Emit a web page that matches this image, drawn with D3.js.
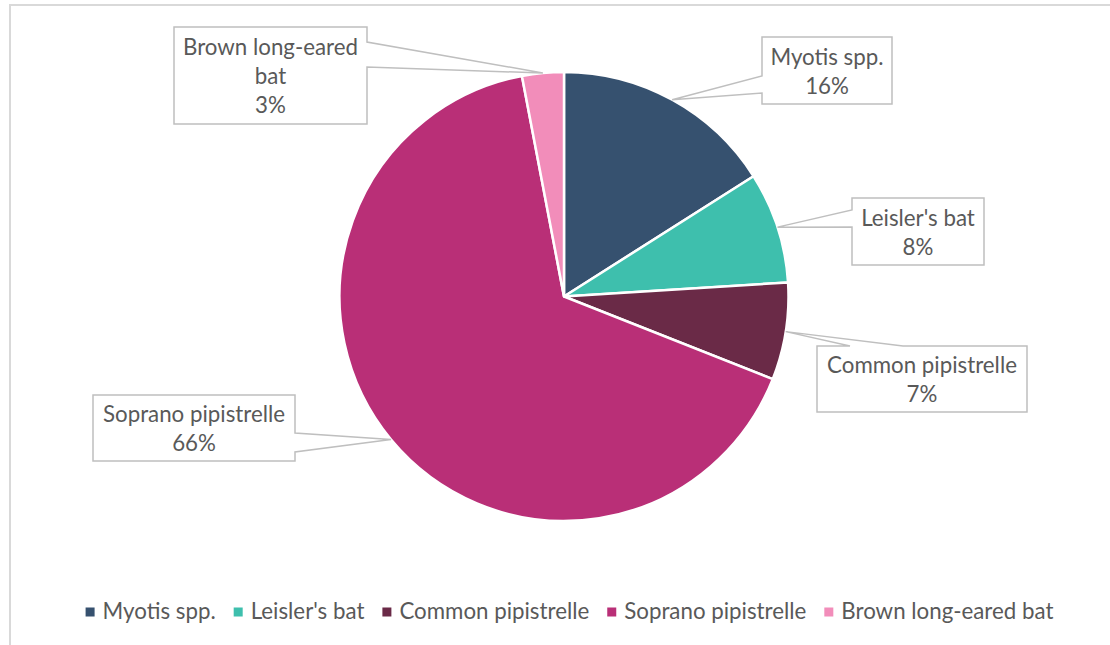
<!DOCTYPE html>
<html>
<head>
<meta charset="utf-8">
<script src="https://cdn.jsdelivr.net/npm/d3@7"></script>
<style>
  html, body { margin: 0; padding: 0; background: #ffffff; }
  svg { display: block; }
</style>
</head>
<body>
<svg id="chart" width="1110" height="645"></svg>
<script>
// Bat species recorded, share of all passes (%)
const categories = ["Myotis spp.", "Leisler's bat", "Common pipistrelle", "Soprano pipistrelle", "Brown long-eared bat"];
const shares = [16, 8, 7, 66, 3];
const sliceColors = ["#36516F", "#3EBFAD", "#6A2A47", "#B92F77", "#F28DBA"];
// Data-label text, one entry per line
const labelLines = [
  ["Myotis spp.", "16%"],
  ["Leisler's bat", "8%"],
  ["Common pipistrelle", "7%"],
  ["Soprano pipistrelle", "66%"],
  ["Brown long-eared", "bat", "3%"]
];

// Callout boxes: rectangle, side the pointer leaves from, and pointer base
const callouts = [
  { x0: 762, y0: 37, x1: 892, y1: 104, side: "left",  a: 76,  b: 93 },
  { x0: 852, y0: 198, x1: 984, y1: 265, side: "left",  a: 210, b: 227 },
  { x0: 817, y0: 346, x1: 1027, y1: 412, side: "top",   a: 850, b: 903 },
  { x0: 93,  y0: 395, x1: 295, y1: 461, side: "right", a: 433, b: 452 },
  { x0: 174, y0: 27,  x1: 367, y1: 124, side: "right", a: 42,  b: 67 }
];

const FONT = "Lato, 'Open Sans', sans-serif";
const FONT_SIZE = 22.3;
const TEXT = "#595959";
const svg = d3.select("#chart");

// chart frame
svg.append("rect")
  .attr("x", 10).attr("y", 5)
  .attr("width", 1300).attr("height", 900)
  .attr("fill", "none")
  .attr("stroke", "#d9d9d9")
  .attr("stroke-width", 2);

const cx = 564, cy = 296.5, R = 224.5;

const pie = d3.pie().sort(null).value(d => d);
const arcs = pie(shares);
const arc = d3.arc().innerRadius(0).outerRadius(R);

const g = svg.append("g").attr("transform", `translate(${cx},${cy})`);
g.selectAll("path.slice")
  .data(arcs)
  .join("path")
  .attr("class", "slice")
  .attr("d", arc)
  .attr("fill", (d, i) => sliceColors[i])
  .attr("stroke", "#ffffff")
  .attr("stroke-width", 2.5)
  .attr("stroke-linejoin", "round");

// callouts pointing at the middle of each slice's outer edge
function calloutPath(c, t) {
  const { x0, y0, x1, y1, a, b } = c;
  if (c.side === "top")
    return `M${x0},${y0}L${a},${y0}L${t[0]},${t[1]}L${b},${y0}L${x1},${y0}L${x1},${y1}L${x0},${y1}Z`;
  if (c.side === "right")
    return `M${x0},${y0}L${x1},${y0}L${x1},${a}L${t[0]},${t[1]}L${x1},${b}L${x1},${y1}L${x0},${y1}Z`;
  return `M${x0},${y0}L${x1},${y0}L${x1},${y1}L${x0},${y1}L${x0},${b}L${t[0]},${t[1]}L${x0},${a}Z`;
}

const lineGap = 29;
arcs.forEach((d, i) => {
  const mid = (d.startAngle + d.endAngle) / 2;
  const tip = [cx + R * Math.sin(mid), cy - R * Math.cos(mid)];
  const c = callouts[i];
  svg.append("path")
    .attr("d", calloutPath(c, tip))
    .attr("fill", "#ffffff")
    .attr("stroke", "#bfbfbf")
    .attr("stroke-width", 1.5)
    .attr("stroke-linejoin", "miter");
  const lines = labelLines[i];
  const mx = (c.x0 + c.x1) / 2, my = (c.y0 + c.y1) / 2;
  const t = svg.append("text")
    .attr("text-anchor", "middle")
    .attr("font-family", FONT)
    .attr("font-size", FONT_SIZE)
    .attr("fill", TEXT);
  lines.forEach((s, k) => {
    t.append("tspan")
      .attr("x", mx)
      .attr("y", my + (k - (lines.length - 1) / 2) * lineGap + 8.5)
      .text(s);
  });
});

// legend
const legend = svg.append("g");
const items = legend.selectAll("g")
  .data(categories)
  .join("g");
items.append("rect")
  .attr("width", 9).attr("height", 9)
  .attr("y", -4.5)
  .attr("fill", (d, i) => sliceColors[i]);
items.append("text")
  .attr("x", 17)
  .attr("y", 7)
  .attr("font-family", FONT)
  .attr("font-size", FONT_SIZE)
  .attr("fill", TEXT)
  .text(d => d);
let xpos = 0;
items.each(function () {
  const w = d3.select(this).select("text").node().getComputedTextLength();
  d3.select(this).attr("data-x", xpos);
  xpos += 17 + w + 18;
});
const total = xpos - 18;
const startX = 569.5 - total / 2;
items.attr("transform", function () {
  return `translate(${startX + (+d3.select(this).attr("data-x"))},612)`;
});
</script>
</body>
</html>
